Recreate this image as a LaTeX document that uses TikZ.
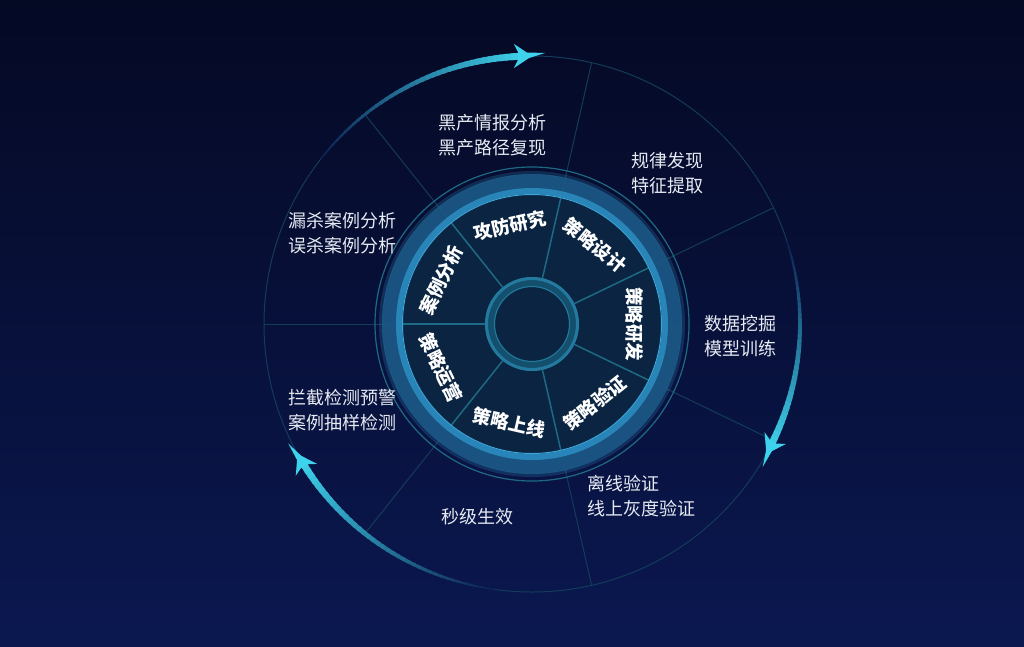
\documentclass[tikz,border=0pt]{standalone}
\usepackage{fontspec}
\usepackage{tikz}
\usetikzlibrary{arrows.meta}

\newfontfamily\cjk{Noto Sans CJK SC}

\definecolor{bgtop}{HTML}{040924}
\definecolor{bgbot}{HTML}{0B1850}
\definecolor{diskfill}{HTML}{0A2442}
\definecolor{ringdark}{HTML}{1C5A88}
\definecolor{ringlight}{HTML}{2F96CC}
\definecolor{ringedge}{HTML}{3AA6D6}
\definecolor{smallring}{HTML}{14506E}
\definecolor{smalledge}{HTML}{23799E}
\definecolor{tealline}{HTML}{1D6A84}
\definecolor{faintline}{HTML}{143B58}
\definecolor{arccyan}{HTML}{3ED3EC}
\definecolor{arcfade}{HTML}{0D2050}
\definecolor{lbltext}{HTML}{E6EAF2}

\begin{document}
\begin{tikzpicture}[x=1pt, y=1pt, font=\cjk]
    \tikzstyle{outerlbl} = [text=lbltext, align=left, inner sep=0pt, font=\cjk\fontsize{18}{25}\selectfont]
    \tikzstyle{innerlbl} = [text=white, inner sep=0pt, font=\cjk\bfseries\fontsize{18.5}{20}\selectfont]
    \tikzstyle{spoke} = [tealline, line width=1.5pt]
    \tikzstyle{outerspoke} = [faintline, line width=1pt]
    \tikzstyle{flowtip} = [arccyan, line width=7pt, -{Stealth[length=18pt, width=24pt, inset=6pt]}]

    % Background
    \shade[top color=bgtop, bottom color=bgbot] (-532,-322) rectangle (492,324);
    \useasboundingbox (-532,-322) rectangle (492,324);

    % Outer circle and spokes
    \draw[faintline, line width=1pt] (0,0) circle (268);
    \foreach \k in {0,...,6} {
        \draw[outerspoke] (180-\k*51.4286:129) -- (180-\k*51.4286:268);
    }

    % Thin ring
    \draw[tealline, line width=1.2pt] (0,0) circle (157);

    % Flow arcs (start/end angles)
    \foreach \s/\e in {142/92, 18/-27, 262/211} {
        \foreach \i in {0,...,39} {
            \pgfmathsetmacro\arcA{\s-(\s-\e)*\i/40}
            \pgfmathsetmacro\arcB{\s-(\s-\e)*(\i+1.4)/40}
            \pgfmathsetmacro\arcP{2.5*\i}
            \pgfmathsetmacro\arcW{1.5+5.5*\i/39}
            \draw[draw=arccyan!\arcP!arcfade, line width=\arcW*1pt] (\arcA:268) arc[start angle=\arcA, end angle=\arcB, radius=268];
        }
        \draw[flowtip] (\e+1:268) arc[start angle=\e+1, end angle=\e-2, radius=268];
    }

    % Main disk
    \fill[diskfill] (0,0) circle (129);
    \foreach \k in {0,...,6} {
        \draw[spoke] (180-\k*51.4286:47) -- (180-\k*51.4286:129);
    }

    % Thick ring
    \draw[ringedge, line width=4pt, opacity=0.2] (0,0) circle (151);
    \draw[ringdark, line width=20pt, opacity=0.9] (0,0) circle (140);
    \draw[ringlight, line width=6pt, opacity=0.75] (0,0) circle (133);
    \draw[ringedge, line width=1pt] (0,0) circle (129.5);

    % Small ring
    \fill[diskfill] (0,0) circle (37);
    \draw[smallring, line width=10pt] (0,0) circle (42);
    \draw[smalledge, line width=3pt] (0,0) circle (45.5);
    \draw[smalledge, line width=1pt] (0,0) circle (37.5);

    % Inner labels
    \node[innerlbl, rotate=12.86] (gongfang) at (102.86:101) {攻防研究};
    \node[innerlbl, rotate=-38.57] (sheji) at (51.43:101) {策略设计};
    \node[innerlbl, rotate=-90] (yanfa) at (0:103) {策略研发};
    \node[innerlbl, rotate=38.57] (yanzheng) at (-51.43:101) {策略验证};
    \node[innerlbl, rotate=-12.86] (shangxian) at (-102.86:101) {策略上线};
    \node[innerlbl, rotate=-64.29] (yunying) at (205.71:101) {策略运营};
    \node[innerlbl, rotate=64.29] (anli) at (154.29:101) {案例分析};

    % Outer labels
    \node[outerlbl] (heichan) at (-40,189) {黑产情报分析\\黑产路径复现};
    \node[outerlbl] (guilv) at (135,151) {规律发现\\特征提取};
    \node[outerlbl] (wajue) at (208,-12) {数据挖掘\\模型训练};
    \node[outerlbl, anchor=west] (lixian) at (55,-172) {离线验证\\线上灰度验证};
    \node[outerlbl] (miaoji) at (-55,-193) {秒级生效};
    \node[outerlbl] (lanjie) at (-189,-86) {拦截检测预警\\案例抽样检测};
    \node[outerlbl] (lousha) at (-189,91) {漏杀案例分析\\误杀案例分析};
\end{tikzpicture}
\end{document}
